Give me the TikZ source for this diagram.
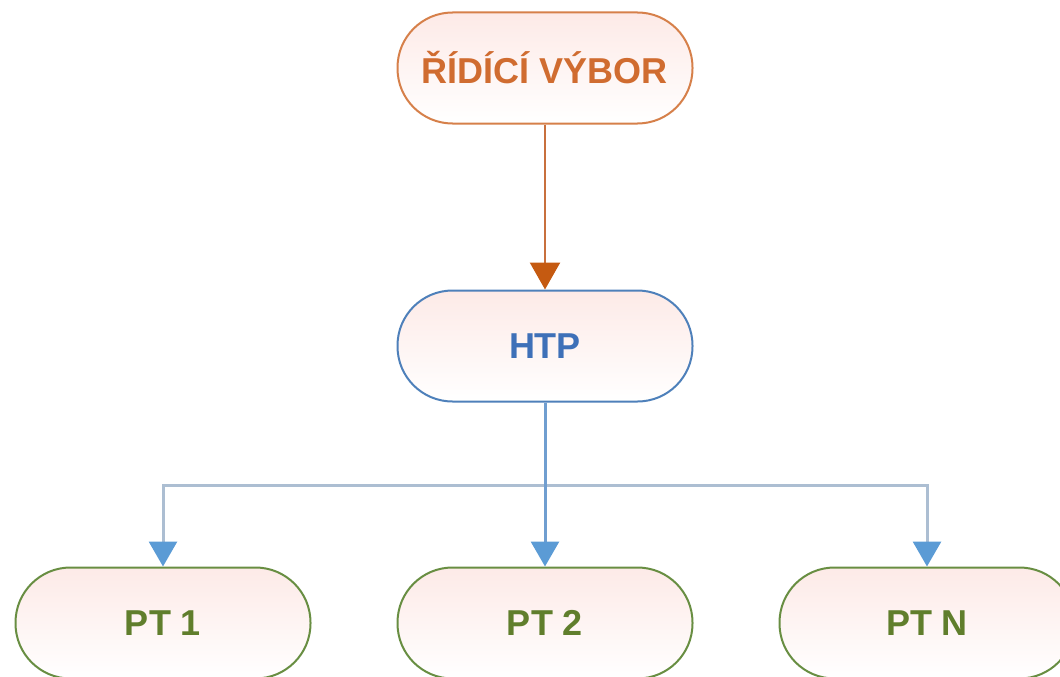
\documentclass[tikz,border=0pt]{standalone}
\usepackage{fontspec}
\setmainfont{Liberation Sans}
\usetikzlibrary{arrows.meta}
\definecolor{obord}{RGB}{214,128,74}
\definecolor{otext}{RGB}{208,108,48}
\definecolor{oline}{RGB}{200,112,62}
\definecolor{ohead}{RGB}{197,90,17}
\definecolor{bbord}{RGB}{78,128,186}
\definecolor{btext}{RGB}{62,112,184}
\definecolor{bline}{RGB}{112,158,208}
\definecolor{bhline}{RGB}{172,190,210}
\definecolor{bhead}{RGB}{91,155,213}
\definecolor{gbord}{RGB}{104,142,66}
\definecolor{gtext}{RGB}{96,126,44}
\definecolor{pinkfill}{RGB}{253,234,231}
\tikzset{
  pill/.style={rectangle, rounded corners=55pt, minimum width=295pt, minimum height=111pt,
    line width=2pt, shading=axis, shading angle=135, top color=pinkfill, bottom color=white,
    font=\fontsize{36}{40}\selectfont\bfseries, inner sep=0pt},
  topbox/.style={pill, draw=obord, text=otext},
  midbox/.style={pill, draw=bbord, text=btext},
  botbox/.style={pill, draw=gbord, text=gtext},
  orarrow/.style={draw=oline, line width=2.5pt, -{Triangle[width=30pt,length=27pt,color=ohead]}},
  blarrow/.style={draw=bhline, line width=3pt, -{Triangle[width=28pt,length=25pt,color=bhead]}},
  bvline/.style={draw=bline, line width=3pt, -{Triangle[width=28pt,length=25pt,color=bhead]}}
}
\begin{document}
\begin{tikzpicture}[x=1pt,y=-1pt]
\useasboundingbox (0,0) rectangle (1060,677);
\node[topbox] (rv) at (545,68) {ŘÍDÍCÍ VÝBOR};
\node[midbox] (htp) at (545,346) {HTP};
\node[botbox] (pt1) at (163,623) {PT 1};
\node[botbox] (pt2) at (545,623) {PT 2};
\node[botbox] (ptn) at (927,623) {PT N};
\coordinate (bar) at (545,485);
\draw[orarrow] (rv.south) -- (htp.north);
\draw[blarrow] (bar) -| (pt1.north);
\draw[blarrow] (bar) -| (ptn.north);
\draw[bvline] (htp.south) -- (pt2.north);
\end{tikzpicture}
\end{document}
